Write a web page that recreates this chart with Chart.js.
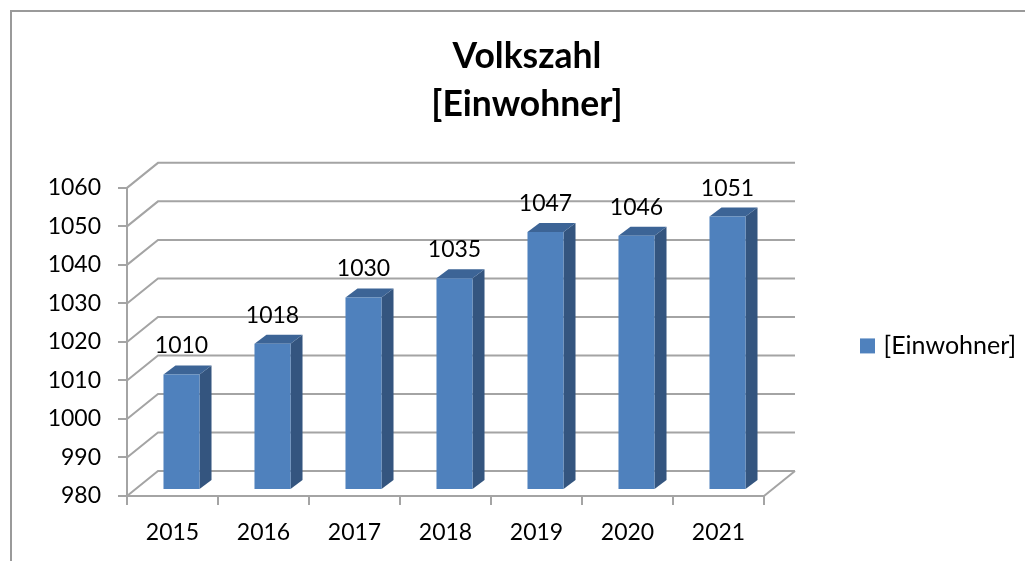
<!DOCTYPE html>
<html><head><meta charset="utf-8">
<script src="https://cdn.jsdelivr.net/npm/chart.js@4"></script>
<style>
html,body{margin:0;padding:0;background:#fff;overflow:hidden}
#frame{position:absolute;left:10px;top:10px;width:1100px;height:700px;border:2px solid #9a9a9a;box-sizing:border-box}
canvas{position:absolute;left:0;top:0}
</style></head>
<body><div id="frame"></div><canvas id="c" width="1025" height="561"></canvas>
<script>
const years = ['2015','2016','2017','2018','2019','2020','2021'];
const einwohner = [1010,1018,1030,1035,1047,1046,1051];
const seriesName = '[Einwohner]';
const titleLines = ['Volkszahl','[Einwohner]'];
const yMin = 980, yMax = 1060, yStep = 10;
const FONT = 'Lato, Carlito, Calibri, sans-serif';
const GRID = '#a4a4a4';
const BAR = '#4f81bd';
const DEPTH = {x:31, y:-25};      // wall depth
const BAR_SHIFT = {x:9, y:-6};    // bars stand inside the floor
const BAR_DEPTH = {x:12, y:-9};

const depth3d = {
  id:'depth3d',
  afterLayout(chart){
    // place the title over the whole frame and the legend level with the plot
    const t = chart.titleBlock, l = chart.legend;
    const dx = 527 - (t.left+t.right)/2;
    t.left += dx; t.right += dx;
    l.top = chart.chartArea.top + (chart.chartArea.bottom-chart.chartArea.top)/2 - 100 - 11 + 4;
    l.bottom = l.top + 100*2 + 22;
  },
  beforeDatasetsDraw(chart){
    const {ctx, scales:{x,y}} = chart;
    ctx.save();
    ctx.strokeStyle = GRID; ctx.lineWidth = 2;
    y.ticks.forEach(t=>{
      const py = y.getPixelForValue(t.value);
      ctx.beginPath();
      ctx.moveTo(x.left, py);
      ctx.lineTo(x.left+DEPTH.x, py+DEPTH.y);
      ctx.lineTo(x.right+DEPTH.x, py+DEPTH.y);
      ctx.stroke();
    });
    const b = y.getPixelForValue(yMin);
    ctx.beginPath();
    ctx.moveTo(x.right, b);
    ctx.lineTo(x.right+DEPTH.x, b+DEPTH.y);
    ctx.stroke();
    ctx.restore();
    ctx.save();
    ctx.translate(BAR_SHIFT.x, BAR_SHIFT.y);
    const meta = chart.getDatasetMeta(0);
    meta.data.forEach(el=>{
      const l = el.x-el.width/2, r = el.x+el.width/2, t = el.y, bt = el.base;
      ctx.fillStyle = '#34557f';
      ctx.beginPath();
      ctx.moveTo(r,t); ctx.lineTo(r+BAR_DEPTH.x,t+BAR_DEPTH.y);
      ctx.lineTo(r+BAR_DEPTH.x,bt+BAR_DEPTH.y); ctx.lineTo(r,bt); ctx.closePath(); ctx.fill();
      ctx.fillStyle = '#3c6496';
      ctx.beginPath();
      ctx.moveTo(l,t); ctx.lineTo(l+BAR_DEPTH.x,t+BAR_DEPTH.y);
      ctx.lineTo(r+BAR_DEPTH.x,t+BAR_DEPTH.y); ctx.lineTo(r,t); ctx.closePath(); ctx.fill();
    });
  },
  afterDatasetsDraw(chart){
    const {ctx} = chart;
    ctx.restore();
    ctx.save();
    ctx.fillStyle = '#000';
    ctx.font = '23px '+FONT;
    ctx.textAlign = 'center'; ctx.textBaseline = 'alphabetic';
    const meta = chart.getDatasetMeta(0);
    meta.data.forEach((el,i)=>{
      ctx.fillText(String(einwohner[i]), el.x+BAR_SHIFT.x, el.y+BAR_SHIFT.y-21);
    });
    ctx.restore();
  }
};

new Chart(document.getElementById('c'),{
  type:'bar',
  plugins:[depth3d],
  data:{labels:years,datasets:[{label:seriesName,data:einwohner,base:yMin,backgroundColor:BAR,
    barPercentage:0.396,categoryPercentage:1,borderWidth:0}]},
  options:{
    responsive:false,animation:false,
    layout:{padding:{left:0,right:6,top:33,bottom:0}},
    scales:{
      x:{
        grid:{drawOnChartArea:false,drawTicks:true,tickLength:9,color:GRID,lineWidth:2},
        border:{display:true,color:GRID,width:2},
        ticks:{color:'#000',font:{family:FONT,size:23},padding:14,maxRotation:0},
        afterFit(s){s.height=65;}
      },
      y:{
        min:yMin,max:yMax,
        grid:{drawOnChartArea:false,drawTicks:true,tickLength:9,color:GRID,lineWidth:2},
        border:{display:true,color:GRID,width:2},
        ticks:{stepSize:yStep,color:'#000',font:{family:FONT,size:23},padding:17,
          callback(v){return String(v);}},
        afterFit(s){s.width=127;}
      }
    },
    plugins:{
      title:{display:true,text:titleLines,color:'#000',
        font:{family:FONT,size:35.5,weight:'bold',lineHeight:1.35},padding:{top:0,bottom:59}},
      legend:{display:true,position:'right',maxWidth:255,
        labels:{boxWidth:7,boxHeight:7,padding:100,color:'#000',font:{family:FONT,size:25},
          generateLabels(){return [{text:seriesName,fillStyle:BAR,strokeStyle:BAR,lineWidth:8,datasetIndex:0}];}}},
      tooltip:{enabled:false}
    }
  }
});
</script></body></html>
